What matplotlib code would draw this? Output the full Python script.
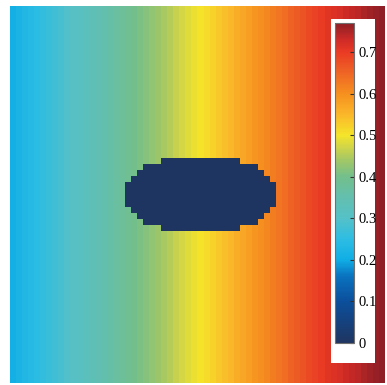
import numpy as np
import matplotlib.pyplot as plt
from matplotlib.colors import LinearSegmentedColormap
from matplotlib.patches import Rectangle

# field value per column, left to right
col_vals = [0.210, 0.219, 0.229, 0.238, 0.248, 0.257, 0.266, 0.276, 0.285, 0.295,
            0.304, 0.313, 0.323, 0.332, 0.342, 0.351, 0.360, 0.370, 0.379, 0.389,
            0.398, 0.407, 0.417, 0.426, 0.436, 0.445, 0.454, 0.464, 0.473, 0.483,
            0.492, 0.500, 0.51, 0.52, 0.53, 0.54, 0.55, 0.56, 0.57, 0.58,
            0.59, 0.60, 0.61, 0.62, 0.63, 0.64, 0.65, 0.66, 0.67, 0.68,
            0.69, 0.70, 0.707, 0.714, 0.721, 0.728, 0.735, 0.742, 0.749, 0.756,
            0.763, 0.770]
n_rows = 62

# inclusion: (row, first col, last col), value 0
incl_rows = [25, 26, 27, 28, 29, 30, 31, 32, 33, 34, 35, 36]
incl_start = [25, 22, 21, 20, 19, 19, 19, 19, 20, 21, 22, 25]
incl_end = [37, 40, 41, 42, 43, 43, 43, 43, 42, 41, 40, 37]
incl_val = 0.0

cb_ticks = [0, 0.1, 0.2, 0.3, 0.4, 0.5, 0.6, 0.7]
vmax = 0.77

field = np.tile(np.array(col_vals), (n_rows, 1))
for r, a, b in zip(incl_rows, incl_start, incl_end):
    field[r, a:b + 1] = incl_val

stops = [(0.00, '#1f3561'), (0.10, '#0b4f9c'), (0.16, '#0a72bf'),
         (0.20, '#10aee6'), (0.25, '#2dbde3'), (0.30, '#55c1c8'),
         (0.35, '#63bfae'), (0.40, '#73bf8c'), (0.44, '#a3c766'),
         (0.47, '#cfd44a'), (0.50, '#f5e52a'), (0.55, '#fbb72a'),
         (0.60, '#f6901f'), (0.65, '#ef6525'), (0.70, '#ea3b24'),
         (0.73, '#cf2b27'), (0.77, '#8e1f26')]
cmap = LinearSegmentedColormap.from_list(
    'field', [(v / vmax, c) for v, c in stops])

W, H = 387, 385
fig = plt.figure(figsize=(W / 100, H / 100), dpi=100)

def px_axes(x0, y0, x1, y1):
    return [x0 / W, 1 - y1 / H, (x1 - x0) / W, (y1 - y0) / H]

ax = fig.add_axes(px_axes(10, 6, 385, 383))
im = ax.imshow(field, cmap=cmap, vmin=0, vmax=vmax, aspect='auto',
               interpolation='nearest')
ax.set_axis_off()

# white box behind the colorbar
bx = px_axes(331, 19, 375, 363)
fig.patches.append(Rectangle((bx[0], bx[1]), bx[2], bx[3],
                             transform=fig.transFigure, facecolor='white',
                             edgecolor='none', zorder=2))

cax = fig.add_axes(px_axes(335, 23, 354, 343))
cax.set_zorder(3)
cb = fig.colorbar(im, cax=cax, ticks=cb_ticks)
cb.ax.set_yticklabels(['0', '0.1', '0.2', '0.3', '0.4', '0.5', '0.6', '0.7'],
                      family='Liberation Serif', fontsize=10.5)
cb.ax.tick_params(direction='in', length=3, width=0.8, color='#333333',
                  pad=3)
cb.outline.set_edgecolor('#707070')
cb.outline.set_linewidth(0.8)

fig.savefig('out.png', dpi=100)
